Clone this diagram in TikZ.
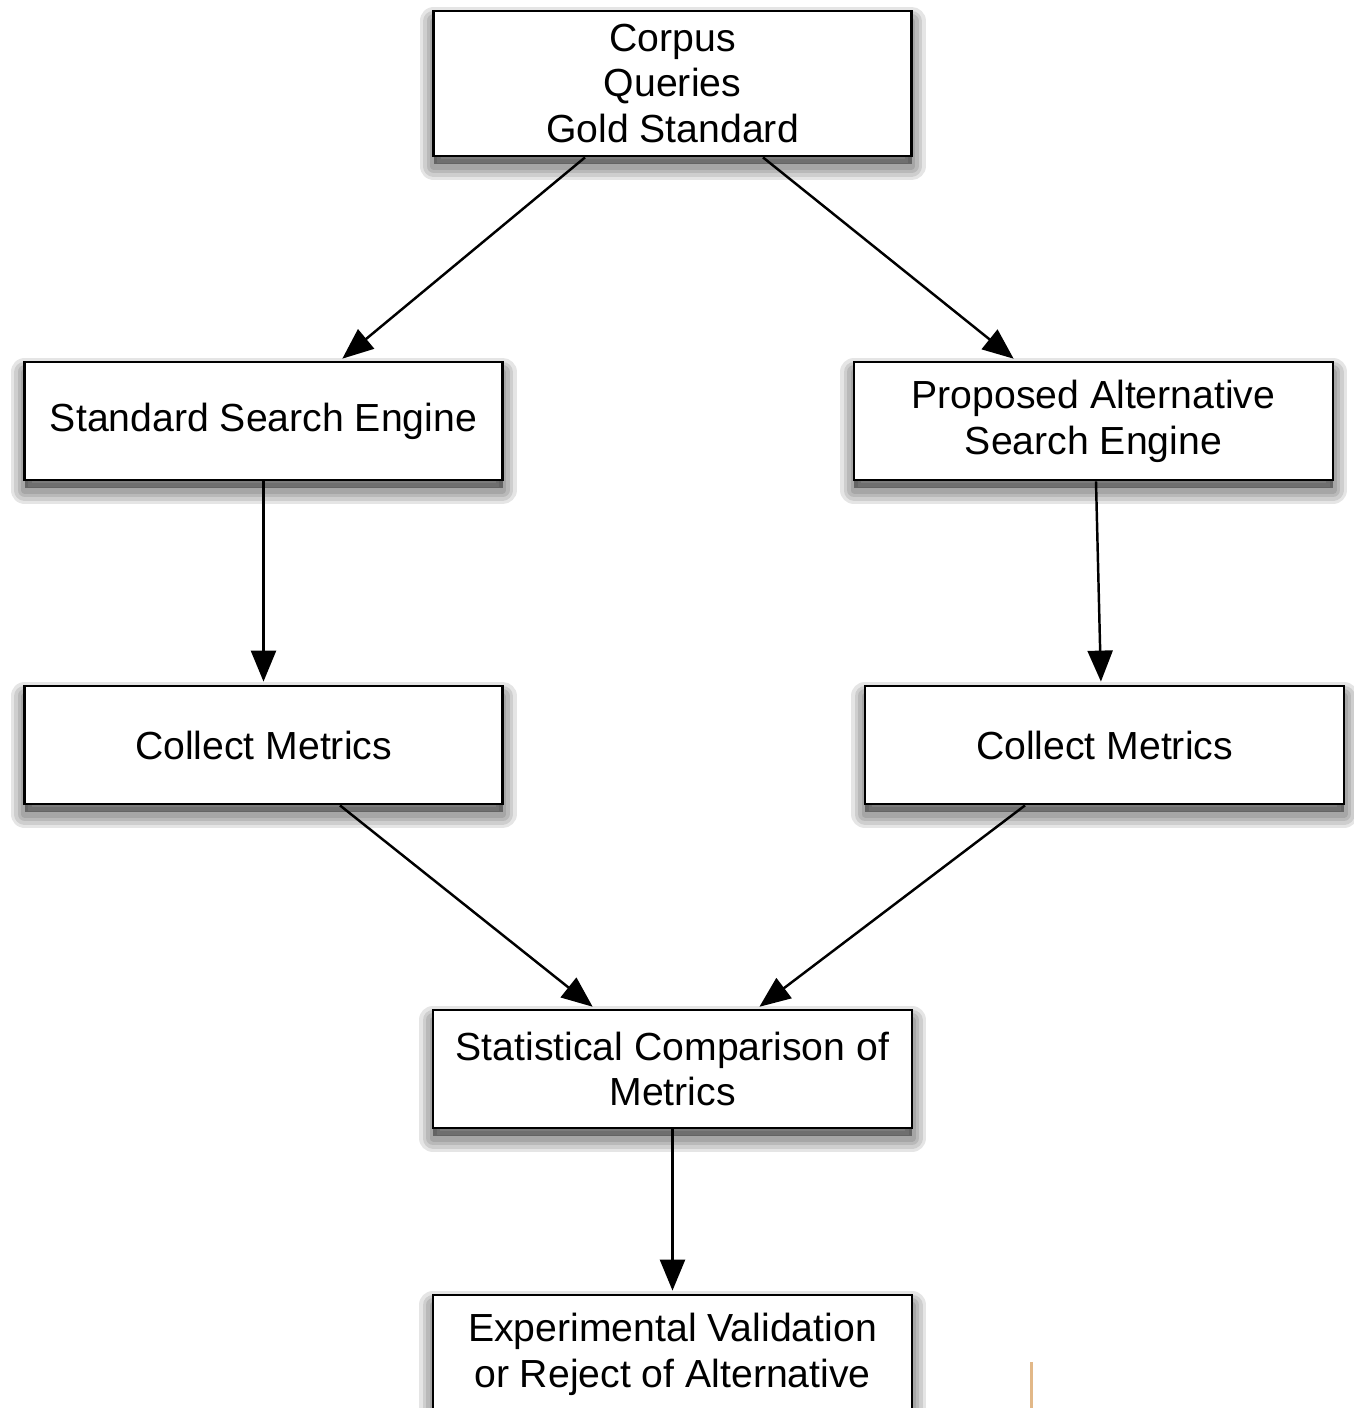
\documentclass[tikz,border=0pt]{standalone}
\usepackage{fontspec}
\setmainfont{Liberation Sans}
\usepackage{xcolor}
\usetikzlibrary{arrows.meta,shadows}
\definecolor{strawtan}{RGB}{226,184,136}

\begin{document}
\begin{tikzpicture}[
  haze/.style={general shadow={shadow yshift=-0.2cm,draw=black,line width=#1,line join=round,opacity=0.1}},
  stepbox/.style={draw=black,line width=1.6pt,fill=white,minimum width=9.56cm,minimum height=2.36cm,inner sep=0pt,align=center,
    font=\fontsize{22.3}{26.1}\selectfont,haze=0.56cm,haze=0.42cm,haze=0.28cm,haze=0.14cm,
    general shadow={shadow yshift=-0.16cm,fill=black,opacity=0.4}},
  flow/.style={line width=1.4pt,-{Triangle[length=0.62cm,width=0.5cm]},shorten >=0.06cm}]
\useasboundingbox(0,0)rectangle(27.08,-28.16);
\node[stepbox,minimum height=2.9cm](input)at(13.45,-1.67){Corpus\\Queries\\Gold Standard};
\node[stepbox](std)at(5.27,-8.42){Standard Search Engine};
\node[stepbox,minimum width=9.58cm](alt)at(21.87,-8.42){Proposed Alternative\\Search Engine};
\node[stepbox](stdmet)at(5.27,-14.9){Collect Metrics};
\node[stepbox,minimum width=9.58cm](altmet)at(22.09,-14.9){Collect Metrics};
\node[stepbox,minimum width=9.58cm](stat)at(13.45,-21.38){Statistical Comparison of\\Metrics};
\node[stepbox,minimum width=9.58cm](valid)at(13.45,-27.08){Experimental Validation\\or Reject of Alternative};
\draw[flow]([xshift=-1.75cm]input.south)--([xshift=1.53cm]std.north);
\draw[flow]([xshift=1.81cm]input.south)--([xshift=-1.55cm]alt.north);
\draw[flow](std.south)--(stdmet.north);
\draw[flow]([xshift=0.05cm]alt.south)--([xshift=-0.07cm]altmet.north);
\draw[flow]([xshift=1.53cm]stdmet.south)--([xshift=-1.55cm]stat.north);
\draw[flow]([xshift=-1.59cm]altmet.south)--([xshift=1.69cm]stat.north);
\draw[flow](stat.south)--(valid.north);
\draw[strawtan,line width=0.06cm](20.62,-27.24)--(20.62,-28.16);
\end{tikzpicture}
\end{document}
